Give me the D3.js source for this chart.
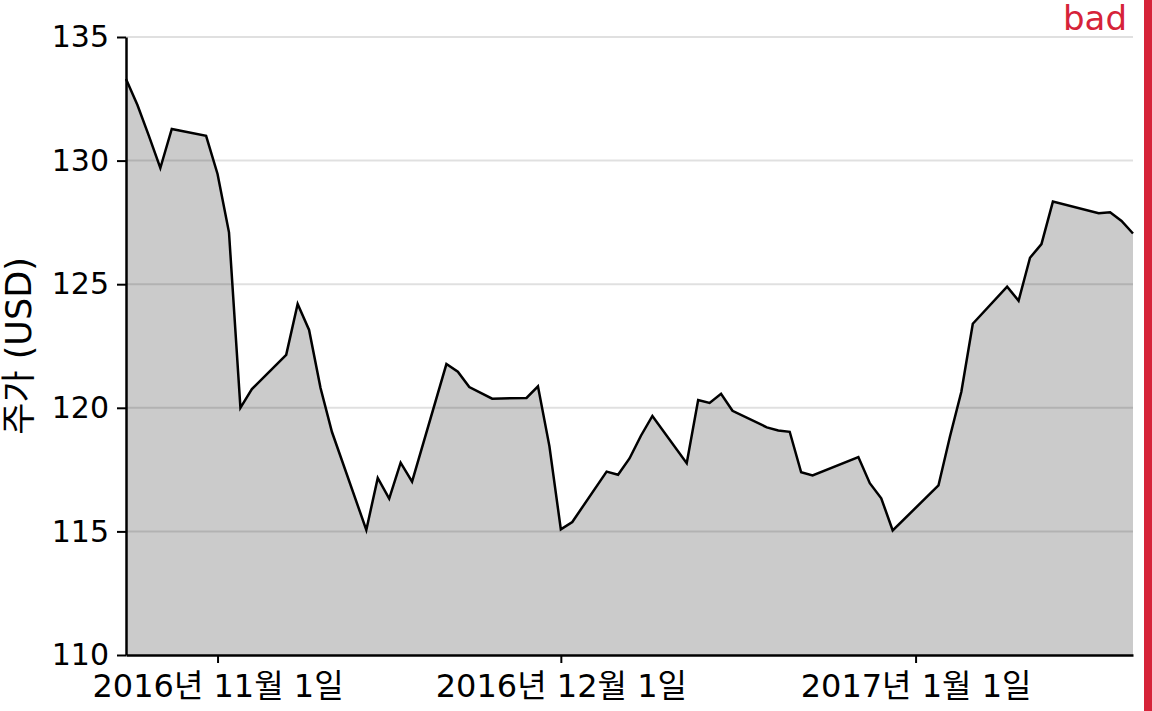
<!DOCTYPE html>
<html>
<head>
<meta charset="utf-8">
<script src="https://cdn.jsdelivr.net/npm/d3@7.9.0/dist/d3.min.js"></script>
<style>
  body { margin: 0; background: #fff; }
  svg { display: block; }
  svg text { font-family: 'DejaVu Sans', 'Noto Sans CJK KR', sans-serif; }
</style>
</head>
<body>
<svg id="chart" width="1152" height="711"></svg>
<script>
// trading days and closing prices
const dates = [
  '2016-10-24', '2016-10-25', '2016-10-26', '2016-10-27', '2016-10-28', '2016-10-31',
  '2016-11-01', '2016-11-02', '2016-11-03', '2016-11-04', '2016-11-07', '2016-11-08',
  '2016-11-09', '2016-11-10', '2016-11-11', '2016-11-14', '2016-11-15', '2016-11-16',
  '2016-11-17', '2016-11-18', '2016-11-21', '2016-11-22', '2016-11-23', '2016-11-25',
  '2016-11-28', '2016-11-29', '2016-11-30', '2016-12-01', '2016-12-02', '2016-12-05',
  '2016-12-06', '2016-12-07', '2016-12-08', '2016-12-09', '2016-12-12', '2016-12-13',
  '2016-12-14', '2016-12-15', '2016-12-16', '2016-12-19', '2016-12-20', '2016-12-21',
  '2016-12-22', '2016-12-23', '2016-12-27', '2016-12-28', '2016-12-29', '2016-12-30',
  '2017-01-03', '2017-01-04', '2017-01-05', '2017-01-06', '2017-01-09', '2017-01-10',
  '2017-01-11', '2017-01-12', '2017-01-13', '2017-01-17', '2017-01-18', '2017-01-19',
  '2017-01-20'
];
const prices = [
  133.3, 132.25, 131.0, 129.7, 131.28, 131.0,
  129.46, 127.1, 120.0, 120.76, 122.14, 124.2,
  123.15, 120.8, 119.02, 115.06, 117.16, 116.33,
  117.78, 117.01, 121.77, 121.46, 120.84, 120.37,
  120.4, 120.87, 118.45, 115.08, 115.38, 117.42,
  117.29, 117.95, 118.87, 119.67, 117.76, 120.31,
  120.2, 120.57, 119.88, 119.21, 119.08, 119.03,
  117.39, 117.26, 118.01, 116.95, 116.34, 115.04,
  116.86, 118.83, 120.65, 123.4, 124.9, 124.33,
  126.07, 126.62, 128.34, 127.87, 127.91, 127.56,
  127.05
];
const yTicks = [110, 115, 120, 125, 130, 135];
const xTickDates = ['2016-11-01', '2016-12-01', '2017-01-01'];
const xTickLabels = ['2016년 11월 1일', '2016년 12월 1일', '2017년 1월 1일'];

const parse = d3.timeParse('%Y-%m-%d');
const data = dates.map((d, i) => ({ date: parse(d), price: prices[i] }));

const width = 1152, height = 711;
const margin = { top: 37, right: 19, bottom: 56, left: 126 };
const font = "'DejaVu Sans', 'Noto Sans CJK KR', sans-serif";

const svg = d3.select('#chart');

const x = d3.scaleTime()
  .domain(d3.extent(data, (d) => d.date))
  .range([margin.left, width - margin.right]);
const y = d3.scaleLinear()
  .domain([110, 135])
  .range([height - margin.bottom, margin.top]);

// area + line
const area = d3.area()
  .x((d) => x(d.date))
  .y0(y(110))
  .y1((d) => y(d.price));
const line = d3.line()
  .x((d) => x(d.date))
  .y((d) => y(d.price));

svg.append('path')
  .datum(data)
  .attr('d', area)
  .attr('fill', '#cbcbcb');

// grid lines (over the area, light)
svg.append('g')
  .selectAll('line')
  .data(yTicks.filter((t) => t !== 110))
  .join('line')
  .attr('x1', margin.left)
  .attr('x2', width - margin.right)
  .attr('y1', (d) => y(d))
  .attr('y2', (d) => y(d))
  .attr('stroke', '#000')
  .attr('stroke-opacity', 0.12)
  .attr('stroke-width', 2);

svg.append('path')
  .datum(data)
  .attr('d', line)
  .attr('fill', 'none')
  .attr('stroke', '#000')
  .attr('stroke-width', 2.5)
  .attr('stroke-linejoin', 'miter');

// axes
const yAxis = d3.axisLeft(y)
  .tickValues(yTicks)
  .tickSize(9)
  .tickPadding(8)
  .tickSizeOuter(0);
const gy = svg.append('g')
  .attr('transform', `translate(${margin.left},0)`)
  .call(yAxis)
  .attr('font-family', font)
  .attr('font-size', 30);
gy.select('.domain').attr('stroke-width', 2.5);
gy.selectAll('.tick line').attr('stroke-width', 2);
gy.selectAll('.tick text').attr('fill', '#000');

const xAxis = d3.axisBottom(x)
  .tickValues(xTickDates.map(parse))
  .tickFormat((d, i) => xTickLabels[i])
  .tickSize(8)
  .tickSizeOuter(0);
const gx = svg.append('g')
  .attr('transform', `translate(0,${height - margin.bottom})`)
  .call(xAxis)
  .attr('font-family', font)
  .attr('font-size', 32);
gx.select('.domain').attr('stroke-width', 2.5);
gx.selectAll('.tick line').attr('stroke-width', 2);
gx.selectAll('.tick text')
  .attr('fill', '#000')
  .attr('dy', null)
  .attr('y', 42);
svg.selectAll('.domain, .tick line').attr('stroke', '#000');

// y axis title
svg.append('text')
  .attr('transform', `translate(31,${(margin.top + height - margin.bottom) / 2}) rotate(-90)`)
  .attr('text-anchor', 'middle')
  .attr('font-family', font)
  .attr('font-size', 35)
  .attr('fill', '#000')
  .text('주가 (USD)');

// "bad" marker
svg.append('rect')
  .attr('x', 1144)
  .attr('y', 0)
  .attr('width', 8)
  .attr('height', height)
  .attr('fill', '#d62339');
svg.append('text')
  .attr('x', 1127)
  .attr('y', 30)
  .attr('text-anchor', 'end')
  .attr('font-family', font)
  .attr('font-size', 34)
  .attr('fill', '#d62339')
  .text('bad');
</script>
</body>
</html>
